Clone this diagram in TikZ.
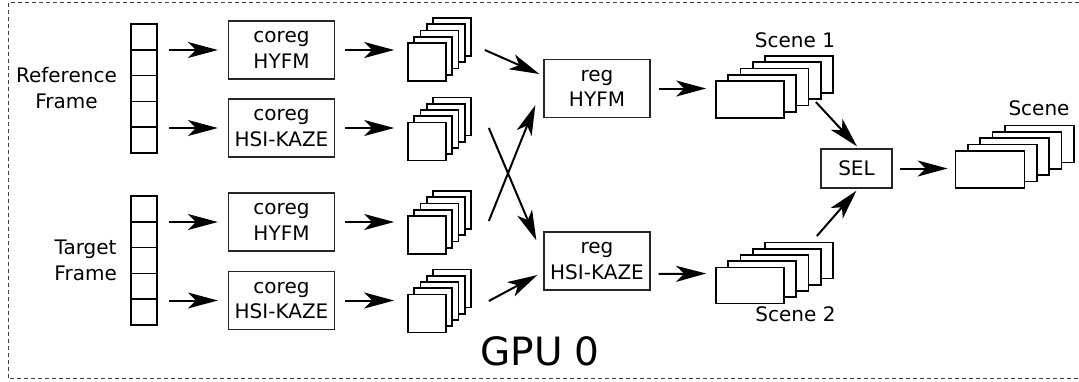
\documentclass[tikz,border=0pt]{standalone}
\usepackage{fontspec}
\setmainfont{DejaVu Sans}
\usetikzlibrary{arrows.meta,calc}
\newcommand\lbl{\fontsize{20}{25.5}\selectfont}
\newcommand\framefont{\fontsize{20}{26}\selectfont}
\newcommand\gpufont{\fontsize{39}{44}\selectfont}
\newcommand\mkstack[6]{%
  \foreach \k in {4,3,2,1}{\node[#4] (#1b\k) at (#2+#5*\k, #3-#6*\k) {};}
  \node[#4] (#1) at (#2,#3) {};}
\tikzset{
  box/.style={draw=black!85, line width=1.3pt, minimum width=106pt, minimum height=58pt,
    inner sep=0pt, align=center, font=\lbl},
  cell/.style={draw, line width=1.7pt, minimum width=26pt, minimum height=25.8pt, inner sep=0pt},
  sq/.style={draw, fill=white, line width=1.7pt, minimum width=38pt, minimum height=38pt, inner sep=0pt},
  scr/.style={draw, fill=white, line width=1.7pt, minimum width=68pt, minimum height=37pt, inner sep=0pt},
  arr/.style={-{Stealth[length=30pt,width=16pt,inset=8pt]}, line width=2pt},
  txt/.style={font=\lbl, inner sep=0pt},
  framelab/.style={font=\framefont, inner sep=0pt, align=center, anchor=east},
}
\begin{document}
\begin{tikzpicture}[x=1pt,y=-1pt]
\useasboundingbox (0,0) rectangle (1079,381);
\clip (0,0) rectangle (1079,381);
\draw[dash pattern=on 4pt off 3pt, line width=1pt, black!75] (8,2.7) rectangle (1095,378.5);

% frame columns
\foreach \i/\y in {1/36.9,2/62.7,3/88.5,4/114.3,5/140.1}{\node[cell] (rf\i) at (144,\y) {};}
\foreach \i/\y in {1/208.9,2/234.7,3/260.5,4/286.3,5/312.1}{\node[cell] (tf\i) at (144,\y) {};}
\node[framelab] (rflab) at (117,88.5) {Reference\\Frame};
\node[framelab] (tflab) at (117,260.5) {Target\\Frame};

% coreg boxes
\node[box] (cr1) at (281.5,50) {coreg\\HYFM};
\node[box] (cr2) at (281.5,128) {coreg\\HSI-KAZE};
\node[box] (ct1) at (281.5,222) {coreg\\HYFM};
\node[box] (ct2) at (281.5,300.5) {coreg\\HSI-KAZE};

% stacks of squares
\mkstack{s1}{427}{62}{sq}{6.25}{6.25}
\mkstack{s2}{427}{141.5}{sq}{6.25}{6.25}
\mkstack{s3}{427}{235}{sq}{6.25}{6.25}
\mkstack{s4}{427}{313.5}{sq}{6.25}{6.25}

% reg boxes
\node[box] (rg1) at (597,88.5) {reg\\HYFM};
\node[box] (rg2) at (597,261) {reg\\HSI-KAZE};

% scenes
\mkstack{sc1}{750}{99.5}{scr}{12.25}{6.25}
\mkstack{sc2}{750}{285.5}{scr, minimum height=36pt}{12.25}{6.25}
\node[box, minimum width=71pt, minimum height=39pt] (sel) at (856.5,168.5) {SEL};
\mkstack{out}{990}{169.5}{scr, minimum width=69pt}{12.3}{6.4}

\node[txt, anchor=base] (l1) at (795,47) {Scene 1};
\node[txt, anchor=base] (l2) at (795.5,321) {Scene 2};
\node[txt, anchor=base] (l3) at (1039,115) {Scene};
\node[inner sep=0pt, anchor=base, font=\gpufont] (gpu) at (540,365) {GPU 0};

% arrows: frames -> coreg
\foreach \b in {cr1,cr2}{\draw[arr, shorten <=11pt, shorten >=10pt] (\b.west -| rf1.east) -- (\b.west);}
\foreach \b in {ct1,ct2}{\draw[arr, shorten <=11pt, shorten >=10pt] (\b.west -| tf1.east) -- (\b.west);}

% coreg -> stacks
\draw[arr, shorten <=10pt, shorten >=13pt] (cr1.east) -- (cr1.east -| s1.west);
\draw[arr, shorten <=10pt, shorten >=13pt] (cr2.east) -- (cr2.east -| s2.west);
\draw[arr, shorten <=10pt, shorten >=13pt] (ct1.east) -- (ct1.east -| s3.west);
\draw[arr, shorten <=10pt, shorten >=13pt] (ct2.east) -- (ct2.east -| s4.west);

% stacks -> reg
\draw[arr] ($(s1.east)+(38,-12)$) -- ($(rg1.west)+(-4,-14.5)$);
\draw[arr] ($(s2.east)+(42,-13.5)$) -- ($(rg2.north west)+(-7,9)$);
\draw[arr] ($(s3.east)+(42,-14)$) -- ($(rg1.south west)+(-8,-13)$);
\draw[arr] ($(s4.east)+(42,-12.5)$) -- ($(rg2.west)+(-6,14)$);

% reg -> scenes
\draw[arr, shorten <=8pt, shorten >=9pt] (rg1.east) -- (rg1.east -| sc1.west);
\draw[arr] ($(rg2.east)+(8,13)$) -- ($(sc2.west)+(-9,-12)$);

% scenes -> SEL -> out
\draw[arr] ($(sc1.east)+(31,2.5)$) -- ($(sel.north)+(0.5,-2)$);
\draw[arr] ($(sc2.east)+(32,-49.5)$) -- ($(sel.south)+(0,2)$);
\draw[arr, shorten <=7pt, shorten >=7pt] (sel.east) -- (sel.east -| out.west);
\end{tikzpicture}
\end{document}
